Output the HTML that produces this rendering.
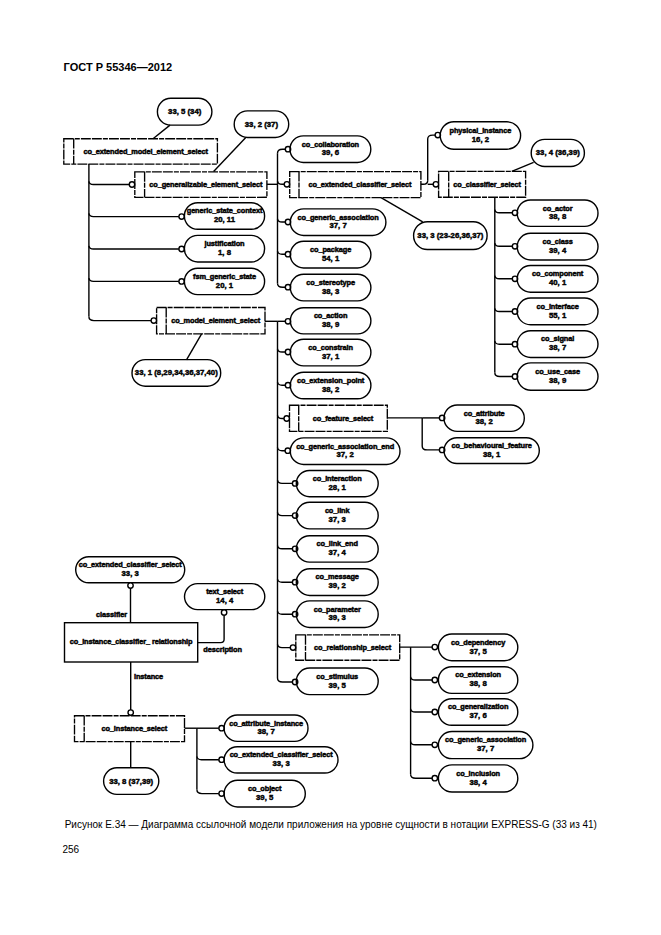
<!DOCTYPE html>
<html><head><meta charset="utf-8"><style>
html,body{margin:0;padding:0;background:#fff;}
body{width:661px;height:935px;position:relative;overflow:hidden;}
svg{position:absolute;left:0;top:0;font-family:"Liberation Sans",sans-serif;}
.s{fill:none;stroke:#000;stroke-width:1.4;}
.d{fill:none;stroke:#000;stroke-width:1.35;stroke-dasharray:9.9 1.1 5.0 1.1 9.9 1.1;}
.c{fill:#fff;stroke:#000;stroke-width:1.4;}
text{fill:#000;stroke:#000;stroke-width:0.45;}
</style></head><body>
<svg width="661" height="935" viewBox="0 0 661 935">
<text x="63.6" y="70.8" font-size="11" font-weight="bold" style="stroke:none">ГОСТ Р 55346—2012</text>
<rect x="157.4" y="98.3" width="54.5" height="26.8" rx="13.4" ry="13.4" class="s"/>
<text x="184.7" y="114.1" font-size="7.7700000000000005" text-anchor="middle" font-weight="bold" letter-spacing="0" >33, 5 (34)</text>
<rect x="234.2" y="110.9" width="54.5" height="26.6" rx="13.3" ry="13.3" class="s"/>
<text x="261.4" y="126.6" font-size="7.7700000000000005" text-anchor="middle" font-weight="bold" letter-spacing="0" >33, 2 (37)</text>
<path d="M170.0,125.1 L153.0,138.7" class="s"/>
<path d="M245.8,137.5 L213.6,171.6" class="s"/>
<rect x="63.8" y="138.7" width="153.6" height="25.4" class="d"/>
<line x1="73.7" y1="138.7" x2="73.7" y2="164.1" class="d"/>
<text x="145.6" y="153.7" font-size="7.4" text-anchor="middle" font-weight="bold" letter-spacing="-0.12" >co_extended_model_element_select</text>
<rect x="134.8" y="171.8" width="132.1" height="25.5" class="d"/>
<line x1="144.6" y1="171.8" x2="144.6" y2="197.3" class="d"/>
<text x="205.8" y="186.9" font-size="7.4" text-anchor="middle" font-weight="bold" letter-spacing="-0.12" >co_generalizable_element_select</text>
<rect x="289.7" y="171.6" width="131.2" height="26.0" class="d"/>
<line x1="299.0" y1="171.6" x2="299.0" y2="197.6" class="d"/>
<text x="359.9" y="186.9" font-size="7.4" text-anchor="middle" font-weight="bold" letter-spacing="-0.12" >co_extended_classifier_select</text>
<rect x="438.6" y="171.4" width="87.0" height="25.9" class="d"/>
<line x1="448.7" y1="171.4" x2="448.7" y2="197.3" class="d"/>
<text x="487.1" y="186.7" font-size="7.4" text-anchor="middle" font-weight="bold" letter-spacing="-0.12" >co_classifier_select</text>
<rect x="156.6" y="307.5" width="108.4" height="26.4" class="d"/>
<line x1="166.2" y1="307.5" x2="166.2" y2="333.9" class="d"/>
<text x="215.6" y="323.0" font-size="7.4" text-anchor="middle" font-weight="bold" letter-spacing="-0.12" >co_model_element_select</text>
<rect x="289.5" y="405.2" width="97.8" height="26.1" class="d"/>
<line x1="298.7" y1="405.2" x2="298.7" y2="431.3" class="d"/>
<text x="343.0" y="420.6" font-size="7.4" text-anchor="middle" font-weight="bold" letter-spacing="-0.12" >co_feature_select</text>
<rect x="295.8" y="634.8" width="103.9" height="25.4" class="d"/>
<line x1="305.5" y1="634.8" x2="305.5" y2="660.2" class="d"/>
<text x="352.6" y="649.8" font-size="7.4" text-anchor="middle" font-weight="bold" letter-spacing="-0.12" >co_relationship_select</text>
<rect x="74.5" y="715.7" width="110.0" height="25.9" class="d"/>
<line x1="84.2" y1="715.7" x2="84.2" y2="741.6" class="d"/>
<text x="134.3" y="731.0" font-size="7.4" text-anchor="middle" font-weight="bold" letter-spacing="-0.12" >co_instance_select</text>
<path d="M88.9,164.1 L88.9,316.6" class="s"/>
<path d="M88.9,181.3 Q89.4,184.5 93.4,184.5 L129.3,184.5" class="s"/>
<circle cx="132.0" cy="184.5" r="2.7" class="c"/>
<path d="M88.9,213.4 Q89.4,216.6 93.4,216.6 L178.9,216.6" class="s"/>
<circle cx="181.6" cy="216.6" r="2.7" class="c"/>
<path d="M88.9,245.8 Q89.4,249.0 93.4,249.0 L178.9,249.0" class="s"/>
<circle cx="181.6" cy="249.0" r="2.7" class="c"/>
<path d="M88.9,278.2 Q89.4,281.4 93.4,281.4 L178.9,281.4" class="s"/>
<circle cx="181.6" cy="281.4" r="2.7" class="c"/>
<path d="M88.9,316.6 Q88.9,320.6 93.9,320.6 L151.1,320.6" class="s"/>
<circle cx="153.8" cy="320.6" r="2.7" class="c"/>
<rect x="184.4" y="202.7" width="80.2" height="26.6" rx="13.3" ry="13.3" class="s"/>
<text x="224.5" y="213.3" font-size="7.4" text-anchor="middle" font-weight="bold" letter-spacing="-0.12" >generic_state_context</text>
<text x="224.5" y="222.2" font-size="7.7700000000000005" text-anchor="middle" font-weight="bold" letter-spacing="0" >20, 11</text>
<rect x="184.4" y="235.4" width="80.2" height="26.6" rx="13.3" ry="13.3" class="s"/>
<text x="224.5" y="246.0" font-size="7.4" text-anchor="middle" font-weight="bold" letter-spacing="-0.12" >justification</text>
<text x="224.5" y="254.9" font-size="7.7700000000000005" text-anchor="middle" font-weight="bold" letter-spacing="0" >1, 8</text>
<rect x="184.4" y="268.2" width="80.2" height="26.4" rx="13.2" ry="13.2" class="s"/>
<text x="224.5" y="278.7" font-size="7.4" text-anchor="middle" font-weight="bold" letter-spacing="-0.12" >fsm_generic_state</text>
<text x="224.5" y="287.6" font-size="7.7700000000000005" text-anchor="middle" font-weight="bold" letter-spacing="0" >20, 1</text>
<path d="M266.9,184.3 L277.5,184.3" class="s"/>
<path d="M277.5,153.2 L277.5,283.2" class="s"/>
<path d="M277.5,153.2 Q277.5,149.2 282.5,149.2 L285.3,149.2" class="s"/>
<circle cx="288.0" cy="149.2" r="2.7" class="c"/>
<path d="M277.5,181.1 Q278.0,184.3 282.0,184.3 L284.2,184.3" class="s"/>
<circle cx="286.9" cy="184.3" r="2.7" class="c"/>
<path d="M277.5,218.8 Q278.0,222.0 282.0,222.0 L285.3,222.0" class="s"/>
<circle cx="288.0" cy="222.0" r="2.7" class="c"/>
<path d="M277.5,251.0 Q278.0,254.2 282.0,254.2 L285.3,254.2" class="s"/>
<circle cx="288.0" cy="254.2" r="2.7" class="c"/>
<path d="M277.5,283.2 Q277.5,287.2 282.5,287.2 L285.3,287.2" class="s"/>
<circle cx="288.0" cy="287.2" r="2.7" class="c"/>
<rect x="290.0" y="135.9" width="80.8" height="26.6" rx="13.3" ry="13.3" class="s"/>
<text x="330.4" y="146.5" font-size="7.4" text-anchor="middle" font-weight="bold" letter-spacing="-0.12" >co_collaboration</text>
<text x="330.4" y="155.4" font-size="7.7700000000000005" text-anchor="middle" font-weight="bold" letter-spacing="0" >39, 6</text>
<rect x="290.3" y="208.9" width="95.6" height="26.6" rx="13.3" ry="13.3" class="s"/>
<text x="338.1" y="219.5" font-size="7.4" text-anchor="middle" font-weight="bold" letter-spacing="-0.12" >co_generic_association</text>
<text x="338.1" y="228.4" font-size="7.7700000000000005" text-anchor="middle" font-weight="bold" letter-spacing="0" >37, 7</text>
<rect x="290.3" y="241.3" width="80.6" height="26.7" rx="13.3" ry="13.3" class="s"/>
<text x="330.6" y="252.0" font-size="7.4" text-anchor="middle" font-weight="bold" letter-spacing="-0.12" >co_package</text>
<text x="330.6" y="260.9" font-size="7.7700000000000005" text-anchor="middle" font-weight="bold" letter-spacing="0" >54, 1</text>
<rect x="290.3" y="274.3" width="80.6" height="26.6" rx="13.3" ry="13.3" class="s"/>
<text x="330.6" y="284.9" font-size="7.4" text-anchor="middle" font-weight="bold" letter-spacing="-0.12" >co_stereotype</text>
<text x="330.6" y="293.8" font-size="7.7700000000000005" text-anchor="middle" font-weight="bold" letter-spacing="0" >38, 3</text>
<path d="M201.6,333.9 L186.5,359.8" class="s"/>
<rect x="132.0" y="359.6" width="88.7" height="26.6" rx="13.3" ry="13.3" class="s"/>
<text x="176.3" y="375.3" font-size="7.7700000000000005" text-anchor="middle" font-weight="bold" letter-spacing="0" >33, 1 (8,29,34,36,37,40)</text>
<path d="M265.0,321.3 L277.5,321.3" class="s"/>
<path d="M277.5,321.3 L277.5,678.0" class="s"/>
<path d="M277.5,321.3 L285.3,321.3" class="s"/>
<circle cx="288.0" cy="321.3" r="2.7" class="c"/>
<path d="M277.5,348.8 Q278.0,352.0 282.0,352.0 L285.3,352.0" class="s"/>
<circle cx="288.0" cy="352.0" r="2.7" class="c"/>
<path d="M277.5,382.0 Q278.0,385.2 282.0,385.2 L285.3,385.2" class="s"/>
<circle cx="288.0" cy="385.2" r="2.7" class="c"/>
<path d="M277.5,415.3 Q278.0,418.5 282.0,418.5 L284.0,418.5" class="s"/>
<circle cx="286.7" cy="418.5" r="2.7" class="c"/>
<path d="M277.5,447.5 Q278.0,450.7 282.0,450.7 L285.1,450.7" class="s"/>
<circle cx="287.8" cy="450.7" r="2.7" class="c"/>
<path d="M277.5,480.2 Q278.0,483.4 282.0,483.4 L292.4,483.4" class="s"/>
<circle cx="295.1" cy="483.4" r="2.7" class="c"/>
<path d="M277.5,512.4 Q278.0,515.6 282.0,515.6 L292.4,515.6" class="s"/>
<circle cx="295.1" cy="515.6" r="2.7" class="c"/>
<path d="M277.5,545.6 Q278.0,548.8 282.0,548.8 L292.4,548.8" class="s"/>
<circle cx="295.1" cy="548.8" r="2.7" class="c"/>
<path d="M277.5,579.0 Q278.0,582.2 282.0,582.2 L292.4,582.2" class="s"/>
<circle cx="295.1" cy="582.2" r="2.7" class="c"/>
<path d="M277.5,611.0 Q278.0,614.2 282.0,614.2 L292.4,614.2" class="s"/>
<circle cx="295.1" cy="614.2" r="2.7" class="c"/>
<path d="M277.5,644.4 Q278.0,647.6 282.0,647.6 L290.3,647.6" class="s"/>
<circle cx="293.0" cy="647.6" r="2.7" class="c"/>
<path d="M277.5,678.0 Q277.5,682.0 282.5,682.0 L292.4,682.0" class="s"/>
<circle cx="295.1" cy="682.0" r="2.7" class="c"/>
<rect x="290.3" y="307.7" width="80.6" height="26.2" rx="13.1" ry="13.1" class="s"/>
<text x="330.6" y="318.1" font-size="7.4" text-anchor="middle" font-weight="bold" letter-spacing="-0.12" >co_action</text>
<text x="330.6" y="327.0" font-size="7.7700000000000005" text-anchor="middle" font-weight="bold" letter-spacing="0" >38, 9</text>
<rect x="290.3" y="339.2" width="80.6" height="26.7" rx="13.3" ry="13.3" class="s"/>
<text x="330.6" y="349.8" font-size="7.4" text-anchor="middle" font-weight="bold" letter-spacing="-0.12" >co_constrain</text>
<text x="330.6" y="358.7" font-size="7.7700000000000005" text-anchor="middle" font-weight="bold" letter-spacing="0" >37, 1</text>
<rect x="290.3" y="372.2" width="80.6" height="26.6" rx="13.3" ry="13.3" class="s"/>
<text x="330.6" y="382.8" font-size="7.4" text-anchor="middle" font-weight="bold" letter-spacing="-0.12" >co_extension_point</text>
<text x="330.6" y="391.7" font-size="7.7700000000000005" text-anchor="middle" font-weight="bold" letter-spacing="0" >38, 2</text>
<rect x="290.3" y="437.9" width="109.7" height="26.6" rx="13.3" ry="13.3" class="s"/>
<text x="345.1" y="448.5" font-size="7.4" text-anchor="middle" font-weight="bold" letter-spacing="-0.12" >co_generic_association_end</text>
<text x="345.1" y="457.4" font-size="7.7700000000000005" text-anchor="middle" font-weight="bold" letter-spacing="0" >37, 2</text>
<rect x="296.3" y="470.5" width="81.9" height="26.2" rx="13.1" ry="13.1" class="s"/>
<text x="337.2" y="480.9" font-size="7.4" text-anchor="middle" font-weight="bold" letter-spacing="-0.12" >co_interaction</text>
<text x="337.2" y="489.8" font-size="7.7700000000000005" text-anchor="middle" font-weight="bold" letter-spacing="0" >28, 1</text>
<rect x="296.3" y="502.3" width="81.9" height="26.6" rx="13.3" ry="13.3" class="s"/>
<text x="337.2" y="512.9" font-size="7.4" text-anchor="middle" font-weight="bold" letter-spacing="-0.12" >co_link</text>
<text x="337.2" y="521.8" font-size="7.7700000000000005" text-anchor="middle" font-weight="bold" letter-spacing="0" >37, 3</text>
<rect x="296.3" y="535.7" width="81.9" height="26.4" rx="13.2" ry="13.2" class="s"/>
<text x="337.2" y="546.2" font-size="7.4" text-anchor="middle" font-weight="bold" letter-spacing="-0.12" >co_link_end</text>
<text x="337.2" y="555.1" font-size="7.7700000000000005" text-anchor="middle" font-weight="bold" letter-spacing="0" >37, 4</text>
<rect x="296.3" y="568.8" width="81.9" height="26.7" rx="13.4" ry="13.4" class="s"/>
<text x="337.2" y="579.4" font-size="7.4" text-anchor="middle" font-weight="bold" letter-spacing="-0.12" >co_message</text>
<text x="337.2" y="588.3" font-size="7.7700000000000005" text-anchor="middle" font-weight="bold" letter-spacing="0" >39, 2</text>
<rect x="296.3" y="600.9" width="81.9" height="26.6" rx="13.3" ry="13.3" class="s"/>
<text x="337.2" y="611.5" font-size="7.4" text-anchor="middle" font-weight="bold" letter-spacing="-0.12" >co_parameter</text>
<text x="337.2" y="620.4" font-size="7.7700000000000005" text-anchor="middle" font-weight="bold" letter-spacing="0" >39, 3</text>
<rect x="296.3" y="668.0" width="81.9" height="26.6" rx="13.3" ry="13.3" class="s"/>
<text x="337.2" y="678.6" font-size="7.4" text-anchor="middle" font-weight="bold" letter-spacing="-0.12" >co_stimulus</text>
<text x="337.2" y="687.5" font-size="7.7700000000000005" text-anchor="middle" font-weight="bold" letter-spacing="0" >39, 5</text>
<path d="M420.9,184.3 L423.2,184.3 Q427.7,184.3 427.7,180.8" class="s"/>
<path d="M427.7,139.1 L427.7,180.8" class="s"/>
<path d="M427.7,139.1 Q427.7,135.1 432.7,135.1 L435.1,135.1" class="s"/>
<circle cx="437.8" cy="135.1" r="2.7" class="c"/>
<path d="M427.7,184.3 L433.2,184.3" class="s"/>
<circle cx="435.9" cy="184.3" r="2.7" class="c"/>
<rect x="440.2" y="121.8" width="80.4" height="27.4" rx="13.7" ry="13.7" class="s"/>
<text x="480.4" y="132.8" font-size="7.4" text-anchor="middle" font-weight="bold" letter-spacing="-0.12" >physical_instance</text>
<text x="480.4" y="141.7" font-size="7.7700000000000005" text-anchor="middle" font-weight="bold" letter-spacing="0" >16, 2</text>
<path d="M381.0,197.6 L422.7,221.8" class="s"/>
<rect x="413.6" y="221.8" width="73.5" height="27.7" rx="13.8" ry="13.8" class="s"/>
<text x="450.4" y="238.1" font-size="7.7700000000000005" text-anchor="middle" font-weight="bold" letter-spacing="0" >33, 3 (23-26,36,37)</text>
<path d="M511.8,171.4 L533.6,162.4" class="s"/>
<rect x="531.2" y="139.4" width="53.2" height="27.1" rx="13.5" ry="13.5" class="s"/>
<text x="557.8" y="155.3" font-size="7.7700000000000005" text-anchor="middle" font-weight="bold" letter-spacing="0" >33, 4 (36,39)</text>
<path d="M494.8,197.3 L494.8,372.5" class="s"/>
<path d="M494.8,209.6 Q495.3,212.8 499.3,212.8 L512.3,212.8" class="s"/>
<circle cx="515.0" cy="212.8" r="2.7" class="c"/>
<path d="M494.8,243.1 Q495.3,246.3 499.3,246.3 L512.3,246.3" class="s"/>
<circle cx="515.0" cy="246.3" r="2.7" class="c"/>
<path d="M494.8,275.6 Q495.3,278.8 499.3,278.8 L512.3,278.8" class="s"/>
<circle cx="515.0" cy="278.8" r="2.7" class="c"/>
<path d="M494.8,308.3 Q495.3,311.5 499.3,311.5 L512.3,311.5" class="s"/>
<circle cx="515.0" cy="311.5" r="2.7" class="c"/>
<path d="M494.8,341.0 Q495.3,344.2 499.3,344.2 L512.3,344.2" class="s"/>
<circle cx="515.0" cy="344.2" r="2.7" class="c"/>
<path d="M494.8,372.5 Q494.8,376.5 499.8,376.5 L512.3,376.5" class="s"/>
<circle cx="515.0" cy="376.5" r="2.7" class="c"/>
<rect x="517.2" y="200.0" width="80.8" height="26.4" rx="13.2" ry="13.2" class="s"/>
<text x="557.6" y="210.5" font-size="7.4" text-anchor="middle" font-weight="bold" letter-spacing="-0.12" >co_actor</text>
<text x="557.6" y="219.4" font-size="7.7700000000000005" text-anchor="middle" font-weight="bold" letter-spacing="0" >38, 8</text>
<rect x="517.2" y="233.3" width="80.8" height="26.7" rx="13.3" ry="13.3" class="s"/>
<text x="557.6" y="244.0" font-size="7.4" text-anchor="middle" font-weight="bold" letter-spacing="-0.12" >co_class</text>
<text x="557.6" y="252.9" font-size="7.7700000000000005" text-anchor="middle" font-weight="bold" letter-spacing="0" >39, 4</text>
<rect x="517.2" y="265.5" width="80.8" height="26.7" rx="13.3" ry="13.3" class="s"/>
<text x="557.6" y="276.2" font-size="7.4" text-anchor="middle" font-weight="bold" letter-spacing="-0.12" >co_component</text>
<text x="557.6" y="285.1" font-size="7.7700000000000005" text-anchor="middle" font-weight="bold" letter-spacing="0" >40, 1</text>
<rect x="517.2" y="298.0" width="80.8" height="26.8" rx="13.4" ry="13.4" class="s"/>
<text x="557.6" y="308.7" font-size="7.4" text-anchor="middle" font-weight="bold" letter-spacing="-0.12" >co_interface</text>
<text x="557.6" y="317.6" font-size="7.7700000000000005" text-anchor="middle" font-weight="bold" letter-spacing="0" >55, 1</text>
<rect x="517.2" y="330.7" width="80.8" height="26.8" rx="13.4" ry="13.4" class="s"/>
<text x="557.6" y="341.4" font-size="7.4" text-anchor="middle" font-weight="bold" letter-spacing="-0.12" >co_signal</text>
<text x="557.6" y="350.3" font-size="7.7700000000000005" text-anchor="middle" font-weight="bold" letter-spacing="0" >38, 7</text>
<rect x="517.2" y="362.9" width="80.8" height="27.3" rx="13.7" ry="13.7" class="s"/>
<text x="557.6" y="373.8" font-size="7.4" text-anchor="middle" font-weight="bold" letter-spacing="-0.12" >co_use_case</text>
<text x="557.6" y="382.7" font-size="7.7700000000000005" text-anchor="middle" font-weight="bold" letter-spacing="0" >38, 9</text>
<path d="M387.3,417.9 L422.2,417.9" class="s"/>
<circle cx="442.1" cy="417.9" r="2.7" class="c"/>
<path d="M422.2,417.9 L439.4,417.9" class="s"/>
<path d="M422.2,417.9 L422.2,445.9" class="s"/>
<path d="M422.2,445.9 Q422.2,449.9 427.2,449.9 L439.4,449.9" class="s"/>
<circle cx="442.1" cy="449.9" r="2.7" class="c"/>
<rect x="444.0" y="405.0" width="80.3" height="26.4" rx="13.2" ry="13.2" class="s"/>
<text x="484.1" y="415.5" font-size="7.4" text-anchor="middle" font-weight="bold" letter-spacing="-0.12" >co_attribute</text>
<text x="484.1" y="424.4" font-size="7.7700000000000005" text-anchor="middle" font-weight="bold" letter-spacing="0" >38, 2</text>
<rect x="444.0" y="437.7" width="95.3" height="25.8" rx="12.9" ry="12.9" class="s"/>
<text x="491.6" y="447.9" font-size="7.4" text-anchor="middle" font-weight="bold" letter-spacing="-0.12" >co_behavioural_feature</text>
<text x="491.6" y="456.8" font-size="7.7700000000000005" text-anchor="middle" font-weight="bold" letter-spacing="0" >38, 1</text>
<path d="M399.7,647.1 L432.1,647.1" class="s"/>
<circle cx="434.8" cy="647.1" r="2.7" class="c"/>
<path d="M410.6,647.1 L410.6,774.2" class="s"/>
<path d="M410.6,676.8 Q411.1,680.0 415.1,680.0 L432.1,680.0" class="s"/>
<circle cx="434.8" cy="680.0" r="2.7" class="c"/>
<path d="M410.6,708.8 Q411.1,712.0 415.1,712.0 L432.1,712.0" class="s"/>
<circle cx="434.8" cy="712.0" r="2.7" class="c"/>
<path d="M410.6,741.6 Q411.1,744.8 415.1,744.8 L432.1,744.8" class="s"/>
<circle cx="434.8" cy="744.8" r="2.7" class="c"/>
<path d="M410.6,774.2 Q410.6,778.2 415.6,778.2 L432.1,778.2" class="s"/>
<circle cx="434.8" cy="778.2" r="2.7" class="c"/>
<rect x="438.4" y="634.0" width="79.4" height="26.7" rx="13.4" ry="13.4" class="s"/>
<text x="478.1" y="644.6" font-size="7.4" text-anchor="middle" font-weight="bold" letter-spacing="-0.12" >co_dependency</text>
<text x="478.1" y="653.5" font-size="7.7700000000000005" text-anchor="middle" font-weight="bold" letter-spacing="0" >37, 5</text>
<rect x="438.4" y="666.7" width="79.4" height="26.7" rx="13.3" ry="13.3" class="s"/>
<text x="478.1" y="677.3" font-size="7.4" text-anchor="middle" font-weight="bold" letter-spacing="-0.12" >co_extension</text>
<text x="478.1" y="686.2" font-size="7.7700000000000005" text-anchor="middle" font-weight="bold" letter-spacing="0" >38, 8</text>
<rect x="438.4" y="698.7" width="79.4" height="26.6" rx="13.3" ry="13.3" class="s"/>
<text x="478.1" y="709.3" font-size="7.4" text-anchor="middle" font-weight="bold" letter-spacing="-0.12" >co_generalization</text>
<text x="478.1" y="718.2" font-size="7.7700000000000005" text-anchor="middle" font-weight="bold" letter-spacing="0" >37, 6</text>
<rect x="438.4" y="731.5" width="94.5" height="27.1" rx="13.6" ry="13.6" class="s"/>
<text x="485.6" y="742.3" font-size="7.4" text-anchor="middle" font-weight="bold" letter-spacing="-0.12" >co_generic_association</text>
<text x="485.6" y="751.2" font-size="7.7700000000000005" text-anchor="middle" font-weight="bold" letter-spacing="0" >37, 7</text>
<rect x="438.4" y="764.9" width="79.4" height="27.1" rx="13.6" ry="13.6" class="s"/>
<text x="478.1" y="775.8" font-size="7.4" text-anchor="middle" font-weight="bold" letter-spacing="-0.12" >co_inclusion</text>
<text x="478.1" y="784.6" font-size="7.7700000000000005" text-anchor="middle" font-weight="bold" letter-spacing="0" >38, 4</text>
<rect x="75.7" y="556.7" width="109.0" height="26.0" rx="13.0" ry="13.0" class="s"/>
<text x="130.2" y="567.0" font-size="7.4" text-anchor="middle" font-weight="bold" letter-spacing="-0.12" >co_extended_classifier_select</text>
<text x="130.2" y="575.9" font-size="7.7700000000000005" text-anchor="middle" font-weight="bold" letter-spacing="0" >33, 3</text>
<circle cx="130.5" cy="585.6" r="2.7" class="c"/>
<path d="M130.5,588.3 L130.5,622.7" class="s"/>
<rect x="184.5" y="583.6" width="80.3" height="26.0" rx="13.0" ry="13.0" class="s"/>
<text x="224.7" y="593.9" font-size="7.4" text-anchor="middle" font-weight="bold" letter-spacing="-0.12" >text_select</text>
<text x="224.7" y="602.8" font-size="7.7700000000000005" text-anchor="middle" font-weight="bold" letter-spacing="0" >14, 4</text>
<circle cx="224.1" cy="612.4" r="2.7" class="c"/>
<path d="M224.1,615.1 L224.1,639.2 Q224.1,642.6 220.7,642.6 L197.7,642.6" class="s"/>
<rect x="64.5" y="622.7" width="133.2" height="39.3" class="s"/>
<text x="131.1" y="644.4" font-size="7.4" text-anchor="middle" font-weight="bold" letter-spacing="-0.12" >co_instance_classifier_ relationship</text>
<text x="111.5" y="616.6" font-size="7.4" text-anchor="middle" font-weight="bold" letter-spacing="-0.12" >classifier</text>
<text x="222.6" y="651.9" font-size="7.4" text-anchor="middle" font-weight="bold" letter-spacing="-0.12" >description</text>
<text x="148.5" y="679.2" font-size="7.4" text-anchor="middle" font-weight="bold" letter-spacing="-0.12" >instance</text>
<path d="M130.7,662.0 L130.7,709.9" class="s"/>
<circle cx="130.7" cy="712.6" r="2.7" class="c"/>
<path d="M130.7,741.6 L130.7,767.8" class="s"/>
<rect x="103.6" y="767.8" width="55.2" height="26.6" rx="13.3" ry="13.3" class="s"/>
<text x="131.2" y="783.5" font-size="7.7700000000000005" text-anchor="middle" font-weight="bold" letter-spacing="0" >33, 8 (37,39)</text>
<path d="M184.5,728.2 L196.9,728.2" class="s"/>
<path d="M196.9,728.2 L196.9,789.6" class="s"/>
<path d="M196.9,728.2 L218.9,728.2" class="s"/>
<circle cx="221.6" cy="728.2" r="2.7" class="c"/>
<path d="M196.9,756.5 Q197.4,759.7 201.4,759.7 L218.9,759.7" class="s"/>
<circle cx="221.6" cy="759.7" r="2.7" class="c"/>
<path d="M196.9,789.6 Q196.9,793.6 201.9,793.6 L218.9,793.6" class="s"/>
<circle cx="221.6" cy="793.6" r="2.7" class="c"/>
<rect x="224.1" y="715.0" width="83.9" height="26.4" rx="13.2" ry="13.2" class="s"/>
<text x="266.1" y="725.5" font-size="7.4" text-anchor="middle" font-weight="bold" letter-spacing="-0.12" >co_attribute_instance</text>
<text x="266.1" y="734.4" font-size="7.7700000000000005" text-anchor="middle" font-weight="bold" letter-spacing="0" >38, 7</text>
<rect x="224.1" y="746.8" width="113.9" height="26.2" rx="13.1" ry="13.1" class="s"/>
<text x="281.1" y="757.2" font-size="7.4" text-anchor="middle" font-weight="bold" letter-spacing="-0.12" >co_extended_classifier_select</text>
<text x="281.1" y="766.1" font-size="7.7700000000000005" text-anchor="middle" font-weight="bold" letter-spacing="0" >33, 3</text>
<rect x="224.1" y="780.3" width="81.2" height="26.7" rx="13.4" ry="13.4" class="s"/>
<text x="264.7" y="790.9" font-size="7.4" text-anchor="middle" font-weight="bold" letter-spacing="-0.12" >co_object</text>
<text x="264.7" y="799.8" font-size="7.7700000000000005" text-anchor="middle" font-weight="bold" letter-spacing="0" >39, 5</text>
<text x="64.7" y="827.7" font-size="10" style="stroke:none">Рисунок Е.34 — Диаграмма ссылочной модели приложения на уровне сущности в нотации EXPRESS-G (33 из 41)</text>
<text x="62.5" y="853.1" font-size="10" style="stroke:none">256</text>
</svg>
</body></html>
